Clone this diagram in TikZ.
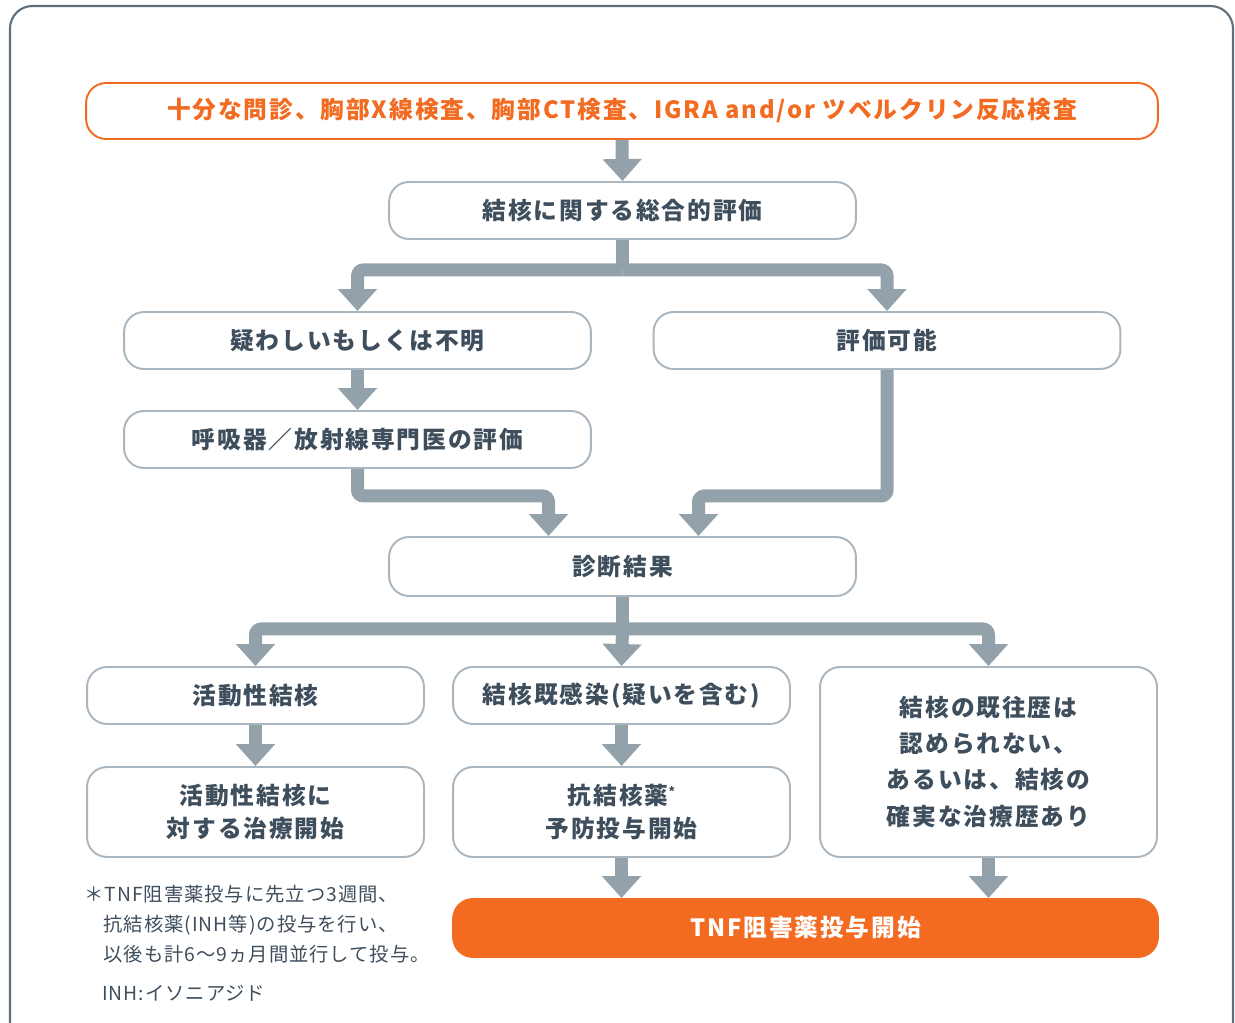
\documentclass[tikz,border=0pt]{standalone}
\usepackage{fontspec}
\setmainfont{Noto Sans CJK JP}[LetterSpace=8]
\usepackage{tikz}
\usetikzlibrary{arrows.meta,calc}
\definecolor{naranja}{HTML}{F26B21}
\definecolor{gris}{HTML}{93A1AB}
\definecolor{borde}{HTML}{A9B6C0}
\definecolor{texto}{HTML}{3E4E5D}
\definecolor{marco}{HTML}{5F6F7B}
\newcommand{\jpbold}{\fontsize{13.5}{19}\selectfont\bfseries}
\newcommand{\jpnote}{\fontsize{11}{17}\selectfont\addfontfeature{LetterSpace=5}}
\tikzstyle{box}=[rectangle, rounded corners=0.4cm, draw=borde, line width=1.1pt, fill=white, text=texto, font=\jpbold, align=center, inner sep=0pt, minimum width=9.34cm, minimum height=1.14cm]
\tikzstyle{smallbox}=[box, minimum width=6.74cm]
\tikzstyle{pipe}=[draw=gris, line width=0.26cm, rounded corners=0.12cm, -{Triangle[width=0.76cm,length=0.44cm]}]
\tikzstyle{stem}=[draw=gris, line width=0.26cm]
\tikzstyle{note}=[text=texto, font=\jpnote, align=left, inner sep=0pt]

\begin{document}
\begin{tikzpicture}[x=0.02cm, y=-0.02cm]
        \useasboundingbox (0,0) rectangle (1235,1023);
        \draw[marco, line width=1.2pt, rounded corners=0.45cm] (10,6) rectangle (1233,1080);

        % boxes
        \node[box, draw=naranja, text=naranja, minimum width=21.44cm, minimum height=1.12cm] (top) at (622,111) {十分な問診、胸部X線検査、胸部CT検査、IGRA and/or ツベルクリン反応検査};
        \node[box] (eval) at (622.5,210.5) {結核に関する総合的評価};
        \node[box] (doubt) at (357.5,340.5) {疑わしいもしくは不明};
        \node[box] (ok) at (887,340.5) {評価可能};
        \node[box] (expert) at (357.5,439.5) {呼吸器／放射線専門医の評価};
        \node[box, minimum height=1.18cm] (result) at (622.5,566.5) {診断結果};
        \node[smallbox] (active) at (255.5,695.5) {活動性結核};
        \node[smallbox] (latent) at (621.5,695.5) {結核既感染(疑いを含む)};
        \node[smallbox, minimum height=3.8cm] (none) at (988.5,762) {結核の既往歴は\\[1.5pt]認められない、\\[1.5pt]あるいは、結核の\\[1.5pt]確実な治療歴あり};
        \node[smallbox, minimum height=1.8cm] (treat) at (255.5,812) {活動性結核に\\対する治療開始};
        \node[smallbox, minimum height=1.8cm] (prevent) at (621.5,812) {抗結核薬\raisebox{0.6ex}{\fontsize{7}{7}\selectfont *}\\予防投与開始};
        \node[box, draw=naranja, fill=naranja, text=white, minimum width=14.1cm, minimum height=1.16cm] (tnf) at (805.5,928) {TNF阻害薬投与開始};

        % notes
        \node[note, anchor=north west] (note) at (84,885) {＊TNF阻害薬投与に先立つ3週間、\\\hphantom{＊}抗結核薬(INH等)の投与を行い、\\\hphantom{＊}以後も計6〜9ヵ月間並行して投与。};
        \node[note, anchor=north west] (inh) at (102,985) {INH:イソニアジド};

        % arrows
        \draw[pipe] (top.south) -- (eval.north);
        \draw[stem] (eval.south) -- ++(0,30) coordinate (j1);
        \draw[pipe] (j1) -| (doubt.north);
        \draw[pipe] (j1) -| (ok.north);
        \draw[pipe] (doubt.south) -- (expert.north);
        \draw[pipe] (expert.south) -- ++(0,27) -| ($(result.north)+(-74,0)$);
        \draw[pipe] (ok.south) -- ++(0,126) -| ($(result.north)+(76,0)$);
        \draw[stem] (result.south) -- ++(0,32) coordinate (j2);
        \draw[pipe] (j2) -| (active.north);
        \draw[pipe] (j2) -- (latent.north);
        \draw[pipe] (j2) -| (none.north);
        \draw[pipe] (active.south) -- (treat.north);
        \draw[pipe] (latent.south) -- (prevent.north);
        \draw[pipe] (prevent.south) -- (prevent.south |- tnf.north);
        \draw[pipe] (none.south) -- (none.south |- tnf.north);
    \end{tikzpicture}
\end{document}
